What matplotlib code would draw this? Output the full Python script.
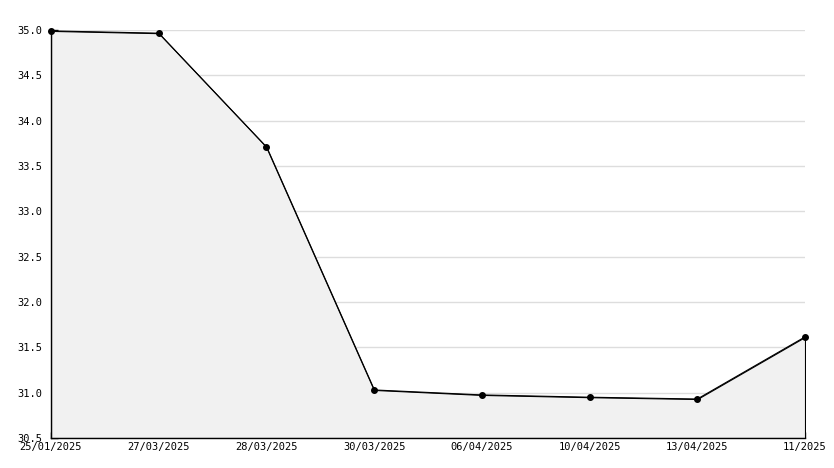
import matplotlib
matplotlib.use("Agg")
import matplotlib.pyplot as plt
from matplotlib.ticker import MultipleLocator, FormatStrFormatter
import numpy as np

dates = ["25/01/2025", "27/03/2025", "28/03/2025", "30/03/2025",
         "06/04/2025", "10/04/2025", "13/04/2025", "11/2025"]
values = [34.99, 34.965, 33.71, 31.03, 30.975, 30.95, 30.93, 31.615]

fig = plt.figure(figsize=(8.34, 4.68), dpi=100)
ax = fig.add_axes([51/834, 1-438/468, (805-51)/834, (438-30)/468])

x = np.arange(len(dates))
ax.fill_between(x, values, 30.5, facecolor="#f1f1f1", edgecolor="black",
                linewidth=0.8, zorder=2)
ax.plot(x, values, color="black", linewidth=0.8, marker="o", markersize=4,
        zorder=4, clip_on=False)

ax.set_xlim(0, len(dates) - 1)
ax.set_ylim(30.5, 35.0)
ax.set_xticks(x)
ax.set_xticklabels(dates)
ax.yaxis.set_major_locator(MultipleLocator(0.5))
ax.yaxis.set_minor_locator(MultipleLocator(0.1))
ax.yaxis.set_major_formatter(FormatStrFormatter("%.1f"))

ax.grid(axis="y", which="major", color="#dddddd", linewidth=1, zorder=0)
ax.set_axisbelow(True)

for s in ["top", "right"]:
    ax.spines[s].set_visible(False)
for s in ["left", "bottom"]:
    ax.spines[s].set_color("black")
    ax.spines[s].set_linewidth(1)
    ax.spines[s].set_zorder(5)

ax.tick_params(axis="y", which="major", direction="in", length=5, width=1,
               pad=6, labelsize=7.5, labelfontfamily="DejaVu Sans Mono")
ax.tick_params(axis="y", which="minor", direction="in", length=3, width=1)
ax.tick_params(axis="x", which="major", direction="in", length=4, width=1,
               pad=3, labelsize=7.5, labelfontfamily="DejaVu Sans Mono")

fig.savefig("out.png", dpi=100)
